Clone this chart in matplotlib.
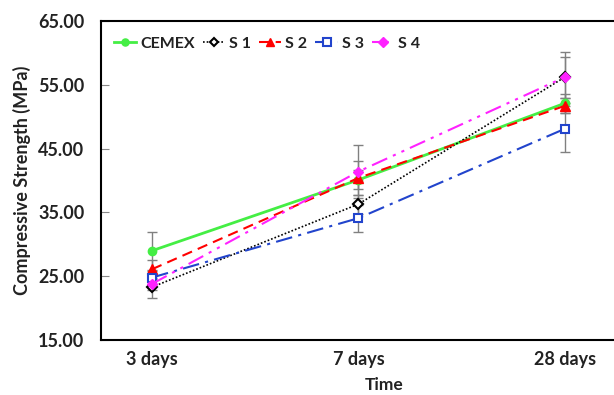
import matplotlib.pyplot as plt
import numpy as np

plt.rcParams['font.family'] = ['Lato', 'DejaVu Sans']

times = ['3 days', '7 days', '28 days']
cemex = [29.0, 40.1, 52.1]
s1 = [23.3, 36.3, 56.2]
s2 = [26.1, 40.4, 51.7]
s3 = [24.8, 34.1, 48.1]
s4 = [23.8, 41.4, 56.2]

cemex_err = [3.0, 1.5, 1.5]
s1_err = [1.7, 1.5, 4.0]
s2_err = [1.5, 2.7, 1.2]
s3_err = [1.0, 2.1, 3.6]
s4_err = [1.0, 4.2, 3.2]

yticks = [15, 25, 35, 45, 55, 65]


def main():
    fig = plt.figure(figsize=(6.14, 3.95), dpi=100)
    ax = fig.add_axes([0.1645, 0.139, 0.9235, 0.808])
    x = np.arange(len(times))

    series = [
        (cemex, cemex_err, 'CEMEX', dict(color='#44ee44', linestyle='-', marker='o', ms=6,
                                         mfc='#44ee44', mec='#44ee44', lw=2)),
        (s1, s1_err, 'S 1', dict(color='black', linestyle=(0, (1, 1.2)), marker='D', ms=5,
                                 mfc='white', mec='black', mew=1.5, lw=1.2)),
        (s2, s2_err, 'S 2', dict(color='red', linestyle=(0, (5, 3)), marker='^', ms=7,
                                 mfc='red', mec='red', lw=1.5)),
        (s3, s3_err, 'S 3', dict(color='#2244cc', linestyle=(0, (8, 3, 1.5, 3)), marker='s', ms=6,
                                 mfc='white', mec='#2244cc', mew=1.5, lw=1.5)),
        (s4, s4_err, 'S 4', dict(color='#ff22ff', linestyle=(0, (8, 3, 1.5, 3, 1.5, 3)), marker='D', ms=5.5,
                                 mfc='#ff22ff', mec='#ff22ff', lw=1.5)),
    ]

    for vals, err, label, style in series:
        ax.errorbar(x, vals, yerr=err, fmt='none', ecolor='#808080', elinewidth=1,
                    capsize=3.5, capthick=1, zorder=1)
    for vals, err, label, style in series:
        ax.plot(x, vals, label=label, zorder=3, **style)

    ax.set_xlim(-0.247, 2.5)
    ax.set_ylim(15, 65)
    ax.set_xticks(x)
    ax.set_xticklabels(times, fontsize=13, fontweight='bold', color='#222222')
    ax.set_yticks(yticks)
    ax.set_yticklabels([f'{v:.2f}' for v in yticks], fontsize=13, fontweight='bold', color='#222222')
    ax.tick_params(axis='x', length=0, pad=8)
    ax.tick_params(axis='y', direction='in', length=6, color='#888888', pad=12)

    for side in ['left', 'bottom', 'top']:
        ax.spines[side].set_linewidth(1.5)
        ax.spines[side].set_color('black')
    ax.spines['right'].set_visible(False)

    ax.set_xlabel('Time', fontsize=12.5, fontweight='bold', color='#222222', labelpad=6)
    ax.set_ylabel('Compressive Strength (MPa)', fontsize=13, fontweight='bold', color='#222222', labelpad=5)

    leg = ax.legend(loc='upper left', bbox_to_anchor=(-0.003, 0.995), ncol=5, frameon=False,
                    prop={'size': 11.5, 'weight': 'bold'}, handlelength=1.4, handletextpad=0.25,
                    columnspacing=0.5, markerscale=0.85)
    for t in leg.get_texts():
        t.set_color('#222222')

    fig.savefig('out.png', dpi=100)


if __name__ == '__main__':
    main()
